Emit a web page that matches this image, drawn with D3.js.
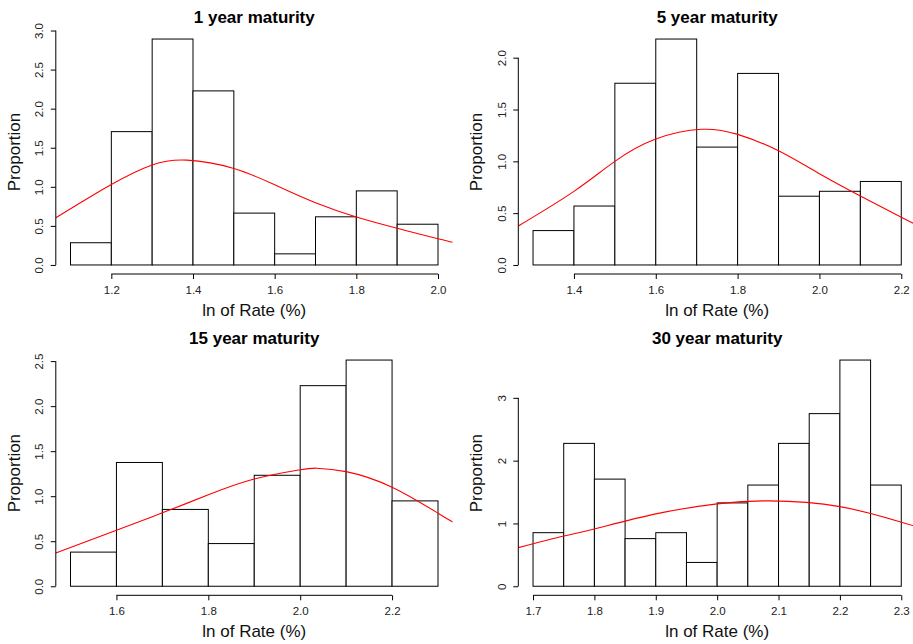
<!DOCTYPE html>
<html>
<head>
<meta charset="utf-8">
<script src="https://cdn.jsdelivr.net/npm/d3@7"></script>
<style>
  html, body { margin: 0; padding: 0; background: #fff; }
  svg { display: block; font-family: "Liberation Sans", Arial, Helvetica, sans-serif; }
</style>
</head>
<body>
<svg id="chart" width="913" height="644"></svg>
<script>
// Histogram bin edges and counts (211 observations per maturity)
const sampleSize = 211;

const edges1y  = [1.1, 1.2, 1.3, 1.4, 1.5, 1.6, 1.7, 1.8, 1.9, 2.0];
const counts1y = [6, 36, 61, 47, 14, 3, 13, 20, 11];

const edges5y  = [1.3, 1.4, 1.5, 1.6, 1.7, 1.8, 1.9, 2.0, 2.1, 2.2];
const counts5y = [7, 12, 37, 46, 24, 39, 14, 15, 17];

const edges15y  = [1.5, 1.6, 1.7, 1.8, 1.9, 2.0, 2.1, 2.2, 2.3];
const counts15y = [8, 29, 18, 10, 26, 47, 53, 20];

const edges30y  = [1.70, 1.75, 1.80, 1.85, 1.90, 1.95, 2.00, 2.05, 2.10, 2.15, 2.20, 2.25, 2.30];
const counts30y = [9, 24, 18, 8, 9, 4, 14, 17, 24, 29, 38, 17];

// Fitted density curves, [x, density]
const curve1y = [[1.064, 0.604], [1.2, 1.03], [1.3, 1.28], [1.385, 1.341], [1.5, 1.235],
                 [1.6, 1.025], [1.7, 0.795], [1.8, 0.613], [1.9, 0.469], [2.0, 0.336], [2.036, 0.29]];
const curve5y = [[1.264, 0.376], [1.4, 0.71], [1.5, 1.0], [1.6, 1.215], [1.712, 1.309],
                 [1.8, 1.26], [1.9, 1.102], [2.0, 0.88], [2.1, 0.665], [2.2, 0.46], [2.236, 0.39]];
const curve15y = [[1.468, 0.37], [1.6, 0.622], [1.7, 0.815], [1.8, 1.015], [1.9, 1.19], [2.0, 1.293],
                  [2.036, 1.311], [2.1, 1.273], [2.2, 1.1], [2.3, 0.811], [2.332, 0.714]];
const curve30y = [[1.676, 0.615], [1.75, 0.80], [1.8, 0.913], [1.9, 1.152], [2.0, 1.311], [2.085, 1.36],
                  [2.2, 1.268], [2.3, 1.02], [2.324, 0.96]];

// Axis tick values
const xTicks1y = [1.2, 1.4, 1.6, 1.8, 2.0];
const yTicks1y = [0, 0.5, 1.0, 1.5, 2.0, 2.5, 3.0];
const xTicks5y = [1.4, 1.6, 1.8, 2.0, 2.2];
const yTicks5y = [0, 0.5, 1.0, 1.5, 2.0];
const xTicks15y = [1.6, 1.8, 2.0, 2.2];
const yTicks15y = [0, 0.5, 1.0, 1.5, 2.0, 2.5];
const xTicks30y = [1.7, 1.8, 1.9, 2.0, 2.1, 2.2, 2.3];
const yTicks30y = [0, 1, 2, 3];

const titles = ["1 year maturity", "5 year maturity", "15 year maturity", "30 year maturity"];

const panels = [
  { title: titles[0], edges: edges1y, counts: counts1y, curve: curve1y, xTicks: xTicks1y, yTicks: yTicks1y, yFmt: d3.format(".1f"),
    box: { left: 55.8, right: 452.7, top: 30, bottom: 274 } },
  { title: titles[1], edges: edges5y, counts: counts5y, curve: curve5y, xTicks: xTicks5y, yTicks: yTicks5y, yFmt: d3.format(".1f"),
    box: { left: 518.3, right: 916, top: 30, bottom: 274 } },
  { title: titles[2], edges: edges15y, counts: counts15y, curve: curve15y, xTicks: xTicks15y, yTicks: yTicks15y, yFmt: d3.format(".1f"),
    box: { left: 55.8, right: 452.7, top: 351, bottom: 595.3 } },
  { title: titles[3], edges: edges30y, counts: counts30y, curve: curve30y, xTicks: xTicks30y, yTicks: yTicks30y, yFmt: d3.format("d"),
    box: { left: 518.3, right: 916, top: 351, bottom: 595.3 } }
];

const svg = d3.select("#chart");
const tickFont = 11.5;

panels.forEach((p, idx) => {
  const b = p.box;
  const bins = p.counts.map((c, i) => ({
    x0: p.edges[i],
    x1: p.edges[i + 1],
    density: c / (sampleSize * (p.edges[i + 1] - p.edges[i]))
  }));
  const lo = p.edges[0], hi = p.edges[p.edges.length - 1];
  const pad = 0.04 * (hi - lo);
  const maxD = d3.max(bins, d => d.density);

  const x = d3.scaleLinear().domain([lo - pad, hi + pad]).range([b.left, b.right]);
  const y = d3.scaleLinear().domain([-0.04 * maxD, 1.04 * maxD]).range([b.bottom, b.top]);

  const g = svg.append("g").attr("class", "panel-" + idx);

  // Histogram bars
  g.append("g").selectAll("rect")
    .data(bins)
    .join("rect")
    .attr("x", d => x(d.x0))
    .attr("y", d => y(d.density))
    .attr("width", d => x(d.x1) - x(d.x0))
    .attr("height", d => y(0) - y(d.density))
    .attr("fill", "#fff")
    .attr("stroke", "#000")
    .attr("stroke-width", 1);

  // Density curve, clipped to the plotting region
  const clipId = "clip-" + idx;
  svg.append("clipPath").attr("id", clipId)
    .append("rect")
    .attr("x", b.left).attr("y", b.top)
    .attr("width", b.right - b.left).attr("height", b.bottom - b.top);

  g.append("path")
    .datum(p.curve)
    .attr("clip-path", `url(#${clipId})`)
    .attr("fill", "none")
    .attr("stroke", "#ff0000")
    .attr("stroke-width", 1.1)
    .attr("d", d3.line().x(d => x(d[0])).y(d => y(d[1])).curve(d3.curveNatural));

  // X axis (line spans first to last tick)
  const xAxis = g.append("g")
    .attr("transform", `translate(0,${b.bottom})`)
    .call(d3.axisBottom(x).tickValues(p.xTicks).tickFormat(d3.format(".1f")).tickSize(5).tickPadding(7));
  xAxis.select(".domain").remove();
  xAxis.append("line")
    .attr("x1", x(p.xTicks[0])).attr("x2", x(p.xTicks[p.xTicks.length - 1]))
    .attr("stroke", "#000");
  xAxis.selectAll(".tick line").attr("stroke", "#000");
  xAxis.selectAll(".tick text")
    .attr("fill", "#222")
    .style("font-size", tickFont + "px")
    .style("font-family", '"Liberation Sans", Arial, sans-serif');

  // Y axis with rotated labels
  const yAxis = g.append("g")
    .attr("transform", `translate(${b.left},0)`)
    .call(d3.axisLeft(y).tickValues(p.yTicks).tickFormat(p.yFmt).tickSize(5));
  yAxis.select(".domain").remove();
  yAxis.append("line")
    .attr("y1", y(p.yTicks[0])).attr("y2", y(p.yTicks[p.yTicks.length - 1]))
    .attr("stroke", "#000");
  yAxis.selectAll(".tick line").attr("stroke", "#000");
  yAxis.selectAll(".tick text")
    .attr("x", null).attr("dy", null)
    .attr("text-anchor", "middle")
    .attr("transform", "translate(-12.6,0) rotate(-90)")
    .attr("fill", "#222")
    .style("font-size", tickFont + "px")
    .style("font-family", '"Liberation Sans", Arial, sans-serif');

  // Title
  g.append("text")
    .attr("x", (b.left + b.right) / 2)
    .attr("y", b.top - 7)
    .attr("text-anchor", "middle")
    .style("font-size", "17px")
    .style("font-weight", "bold")
    .attr("fill", "#000")
    .text(p.title);

  // Axis titles
  g.append("text")
    .attr("x", (b.left + b.right) / 2)
    .attr("y", b.bottom + 42)
    .attr("text-anchor", "middle")
    .style("font-size", "17px")
    .attr("fill", "#111")
    .text("ln of Rate (%)");

  g.append("text")
    .attr("transform", `translate(${b.left - 36},${(b.top + b.bottom) / 2}) rotate(-90)`)
    .attr("text-anchor", "middle")
    .style("font-size", "17px")
    .attr("fill", "#111")
    .text("Proportion");
});
</script>
</body>
</html>
